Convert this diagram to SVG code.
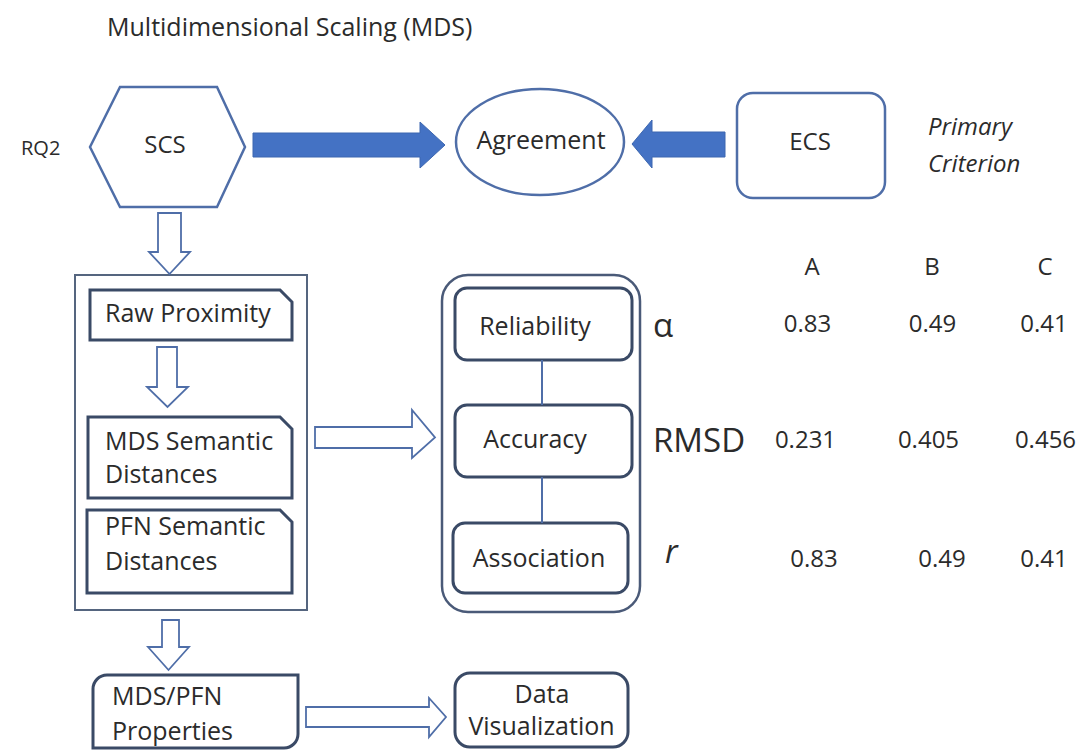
<svg xmlns="http://www.w3.org/2000/svg" width="1083" height="750" viewBox="0 0 1083 750">
<style>
text{font-family:"Open Sans","Liberation Sans",sans-serif;fill:#2b2b2b;font-size:25px}
.c{text-anchor:middle}
.i{font-style:italic}
.n{font-size:24px;text-anchor:middle}
.shape{fill:#fff;stroke:#4f6ea8;stroke-width:2.5}
.box{fill:#fff;stroke:#3a4a66;stroke-width:3}
.outer{fill:none;stroke:#55657f;stroke-width:2}
.cont{fill:none;stroke:#4a5a78;stroke-width:2.5}
.hollow{fill:#fff;stroke:#4f6ea8;stroke-width:1.8;stroke-linejoin:miter}
.solid{fill:#4472c4;stroke:#3d67b0;stroke-width:1}
.line{stroke:#4f6ea8;stroke-width:2;fill:none}
</style>
<rect width="1083" height="750" fill="#fff"/>
<text x="107" y="36">Multidimensional Scaling (MDS)</text>
<text x="21" y="155" style="font-size:20px">RQ2</text>
<g id="scs">
<polygon class="shape" points="90,147 120,87 217,87 245,147 217,207 120,207"/>
<text class="c" x="165" y="153" style="font-size:24px">SCS</text>
</g>
<g id="agreement">
<ellipse class="shape" cx="540" cy="142" rx="84" ry="53"/>
<text class="c" x="541" y="149">Agreement</text>
</g>
<g id="ecs">
<rect class="shape" x="737" y="93" width="148" height="105" rx="16"/>
<text class="c" x="810" y="150" style="font-size:24px">ECS</text>
</g>
<g id="primary-criterion">
<text class="i" x="928" y="135" style="font-size:24px">Primary</text>
<text class="i" x="928" y="172" style="font-size:24px">Criterion</text>
</g>
<g id="measures-outer">
<rect class="outer" x="75" y="275" width="232" height="335"/>
</g>
<g id="raw-proximity">
<path class="box" d="M90,290 H280 L292,302 V340 H90 Z"/>
<text x="105" y="322">Raw Proximity</text>
</g>
<g id="mds-semantic">
<path class="box" d="M88,417 H280 L292,429 V498 H88 Z"/>
<text x="105" y="450">MDS Semantic</text>
<text x="105" y="483">Distances</text>
</g>
<g id="pfn-semantic">
<path class="box" d="M87,510 H280 L292,522 V593 H87 Z"/>
<text x="105" y="535">PFN Semantic</text>
<text x="105" y="570">Distances</text>
</g>
<g id="criteria-container">
<rect class="cont" x="442" y="275" width="198" height="337" rx="26"/>
</g>
<g id="reliability">
<rect class="box" x="455" y="288" width="177" height="72" rx="12"/>
<text class="c" x="535" y="335">Reliability</text>
</g>
<g id="accuracy">
<rect class="box" x="455" y="405" width="177" height="72" rx="12"/>
<text class="c" x="535" y="448">Accuracy</text>
</g>
<g id="association">
<rect class="box" x="453" y="523" width="175" height="70" rx="12"/>
<text class="c" x="539" y="567">Association</text>
</g>
<g id="mds-pfn-properties">
<path class="box" d="M107,675 H298 V734 A14,14 0 0 1 284,748 H93 V689 A14,14 0 0 1 107,675 Z"/>
<text x="112" y="705">MDS/PFN</text>
<text x="112" y="740">Properties</text>
</g>
<g id="data-visualization">
<rect class="box" x="455" y="673" width="173" height="74" rx="15"/>
<text class="c" x="542" y="703">Data</text>
<text class="c" x="541.5" y="735">Visualization</text>
</g>
<g id="table">
<text class="n" x="812" y="275">A</text>
<text class="n" x="932" y="275">B</text>
<text class="n" x="1045" y="275">C</text>
<text x="653" y="337" style="font-size:33px">α</text>
<text class="n" x="807.5" y="332">0.83</text>
<text class="n" x="932.5" y="332">0.49</text>
<text class="n" x="1044" y="332">0.41</text>
<text x="653" y="452" style="font-size:33px">RMSD</text>
<text class="n" x="805.5" y="448">0.231</text>
<text class="n" x="928.5" y="448">0.405</text>
<text class="n" x="1045.5" y="448">0.456</text>
<text class="i" x="665" y="563" style="font-size:32px">r</text>
<text class="n" x="814" y="567">0.83</text>
<text class="n" x="942" y="567">0.49</text>
<text class="n" x="1044" y="567">0.41</text>
</g>
<g id="connectors">
<polygon class="solid" points="253,133 420,133 420,122 445,145 420,168 420,157 253,157"/>
<polygon class="solid" points="725,132 652,132 652,120 632,144 652,168 652,157 725,157"/>
<polygon class="hollow" points="158,213 181,213 181,252 190,252 169.5,274 149,252 158,252"/>
<polygon class="hollow" points="157,347 177,347 177,387 188,387 167.5,407 147,387 157,387"/>
<polygon class="hollow" points="315,427 412,427 412,410 435,437.5 412,458 412,448 315,448"/>
<polygon class="hollow" points="162,620 179,620 179,647 189,647 168.5,670 148,647 162,647"/>
<polygon class="hollow" points="306,707 429,707 429,698 446,717 429,737 429,727 306,727"/>
<line class="line" x1="542" y1="360" x2="542" y2="405"/>
<line class="line" x1="542" y1="477" x2="542" y2="523"/>
</g>
</svg>
